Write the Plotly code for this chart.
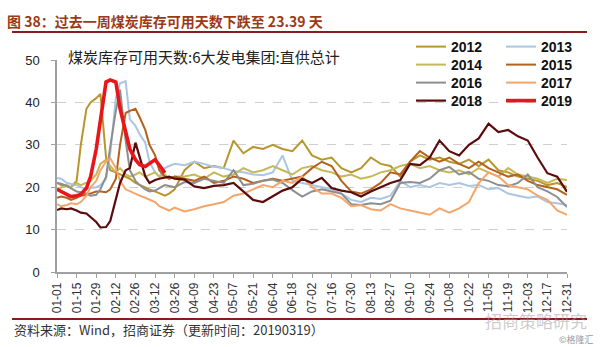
import plotly.graph_objects as go

# ---------------- data (day of year) ----------------
days_early = [0, 3, 7, 10, 14, 17, 21, 24, 28, 31, 35, 38, 42, 45, 49, 52, 56, 59, 63, 66, 70, 73, 77, 80, 84]
days_late = list(range(91, 365, 7))
days = days_early + days_late
days_2019 = days_early[:23]

y2012 = [21.0, 20.5, 20.2, 20.0, 21.5, 30.0, 38.5, 40.0, 41.0, 42.0, 27.0, 24.0, 23.5, 23.0, 22.5, 22.0, 21.0, 20.5, 20.0, 19.5, 19.0, 18.5, 18.0, 18.5, 19.5,
         24.0, 26.0, 24.5, 25.0, 24.5, 31.0, 28.0, 29.5, 29.0, 30.0, 29.0, 28.5, 31.0, 27.5, 26.5, 27.0, 24.5, 23.5, 24.5, 27.0,
         25.5, 25.0, 22.5, 26.0, 27.5, 26.5, 27.0, 26.0, 25.5, 26.5, 25.0, 26.5, 24.0, 23.5, 22.5, 22.0, 21.5, 20.5, 21.0, 20.0]
y2013 = [22.2, 22.0, 21.0, 20.8, 20.5, 20.0, 19.5, 19.8, 20.0, 20.5, 22.0, 28.0, 41.0, 44.5, 45.0, 36.0, 34.5, 32.5, 30.5, 26.0, 23.5, 22.5, 24.5, 25.0, 25.5,
         25.2, 26.0, 25.5, 24.8, 24.5, 23.8, 23.5, 23.0, 22.8, 23.5, 27.5, 21.5, 21.0, 20.5, 20.0, 19.5, 18.5, 17.0, 16.5, 17.5,
         17.2, 18.0, 21.5, 20.0, 20.5, 20.0, 21.0, 20.5, 21.0, 20.3, 20.5, 19.5, 19.8, 18.5, 18.0, 17.5, 17.8, 16.5, 16.2, 15.8]
y2014 = [19.5, 20.0, 20.5, 20.0, 21.0, 20.5, 21.0, 21.5, 23.0, 25.5, 26.5, 25.0, 23.5, 24.5, 23.0, 22.5, 23.0, 23.5, 22.5, 23.0, 23.5, 22.5, 23.0, 22.0, 22.5,
         22.5, 23.0, 22.0, 23.5, 22.5, 23.0, 24.5, 23.5, 24.0, 25.0, 24.0, 23.0, 24.5, 25.0, 24.0, 23.5, 22.5, 23.0, 22.0, 22.5,
         23.5, 24.0, 25.0, 25.5, 24.5, 25.0, 24.0, 23.5, 24.0, 23.0, 24.5, 23.5, 22.5, 24.5, 23.0, 22.5, 22.0, 21.0, 22.0, 21.7]
y2015 = [17.5, 17.8, 17.5, 17.0, 17.5, 18.0, 18.2, 18.5, 19.0, 19.0, 18.8, 19.5, 22.0, 30.0, 37.5, 38.0, 38.5, 36.5, 33.5, 30.0, 27.5, 24.0, 22.5, 22.0, 22.5,
         22.0, 21.5, 22.5, 21.0, 21.5, 22.5, 22.0, 21.0, 21.5, 22.0, 21.5, 22.0, 22.5, 24.5, 26.0, 25.0, 21.5, 19.0, 18.5, 19.5,
         21.0, 23.5, 23.0, 26.0, 28.5, 27.0, 26.0, 27.0, 25.5, 24.5, 26.0, 24.5, 23.5, 22.5, 23.0, 21.5, 20.5, 20.0, 19.5, 18.2]
y2016 = [21.0, 20.8, 20.3, 19.8, 19.0, 18.8, 18.5, 18.0, 18.2, 19.5, 22.5, 29.5, 38.0, 43.0, 31.0, 24.0, 21.5, 20.5, 19.5, 19.0, 19.2, 19.8, 20.5, 20.3, 20.0,
         21.2, 21.0, 22.0, 21.5, 21.0, 24.0, 20.5, 20.8, 21.5, 21.8, 21.0, 19.3, 17.8, 19.0, 19.5, 19.0, 18.5, 16.0, 15.8, 16.2,
         16.0, 16.8, 21.0, 21.2, 21.0, 22.0, 24.0, 24.8, 23.0, 23.6, 22.0, 21.5, 20.5, 20.2, 21.0, 23.0, 20.0, 19.0, 17.7, 15.3]
y2017 = [16.0, 15.5, 15.8, 16.2, 16.0, 16.5, 18.0, 20.0, 21.5, 24.0, 26.0, 26.8, 24.5, 21.5, 19.5, 19.0, 18.5, 18.0, 17.5, 17.0, 16.5, 15.5, 15.0, 14.5, 15.2,
         14.3, 14.8, 15.5, 16.0, 16.5, 18.0, 18.5, 19.5, 20.5, 20.0, 21.5, 21.0, 22.5, 20.0, 18.5, 18.5, 17.5, 15.5, 15.8, 14.8,
         14.5, 16.0, 15.0, 14.5, 14.0, 13.5, 15.0, 14.0, 15.0, 16.5, 21.0, 23.5, 22.5, 20.5, 20.0, 19.5, 18.0, 17.0, 14.5, 13.5]
y2018 = [14.6, 15.0, 14.8, 15.0, 14.5, 14.0, 13.8, 13.0, 11.8, 10.5, 10.6, 12.0, 17.5, 21.0, 24.0, 24.5, 30.5, 27.0, 22.6, 21.0, 21.7, 22.0, 22.2, 22.5, 22.0,
         21.8, 20.2, 19.8, 20.3, 20.5, 21.0, 19.0, 17.0, 16.5, 17.8, 19.2, 20.0, 22.0, 21.0, 22.2, 19.8, 19.2, 18.8, 17.8, 19.0,
         20.0, 21.0, 21.7, 25.5, 25.2, 27.0, 31.0, 28.5, 27.5, 30.0, 31.5, 35.0, 33.0, 33.5, 32.0, 31.0, 27.0, 23.3, 22.5, 18.9]
y2019 = [19.5, 19.0, 18.2, 17.8, 18.0, 18.3, 19.8, 22.5, 29.0, 36.0, 44.8, 45.3, 44.8, 38.5, 33.0, 29.0, 26.5, 25.3, 24.9, 25.5, 26.5, 25.2, 23.39]

years = ["2012", "2013", "2014", "2015", "2016", "2017", "2018", "2019"]
tick_labels = ["01-01", "01-15", "01-29", "02-12", "02-26", "03-12", "03-26", "04-09", "04-23",
               "05-07", "05-21", "06-04", "06-18", "07-02", "07-16", "07-30", "08-13", "08-27",
               "09-10", "09-24", "10-08", "10-22", "11-05", "11-19", "12-03", "12-17", "12-31"]
y_ticks = [0, 10, 20, 30, 40, 50]

# ---------------- styles ----------------
colors = {"2012": "#B8962C", "2013": "#AAC6E4", "2014": "#C6B858", "2015": "#B4611E",
          "2016": "#8E8E8E", "2017": "#F4A56A", "2018": "#5C0B0B", "2019": "#E8161B"}
widths = {"2012": 2, "2013": 2, "2014": 2, "2015": 2, "2016": 2, "2017": 2, "2018": 2.2, "2019": 3.6}
values = {"2012": y2012, "2013": y2013, "2014": y2014, "2015": y2015,
          "2016": y2016, "2017": y2017, "2018": y2018, "2019": y2019}

W, H = 600, 347
ML, MR, MT, MB = 57, 33, 60, 75
PW, PH = W - ML - MR, H - MT - MB


def px(xp):
    return (xp - ML) / PW


def py(yp):
    return (H - MB - yp) / PH


# legend grid: 2 columns x 4 rows (pixel positions of the reference legend)
legend_cols = [411, 501]
legend_rows = [47, 65, 83, 101]

fig = go.Figure()
legend_layout = {}
legend_font = dict(family="Liberation Sans, Arial", size=14, color="#111111", weight="bold")
for i, yr in enumerate(years):
    xs = days_2019 if yr == "2019" else days
    key = "legend" if i == 0 else f"legend{i + 1}"
    fig.add_trace(go.Scatter(
        x=xs, y=values[yr], mode="lines", name=yr, showlegend=True,
        line=dict(color=colors[yr], width=widths[yr]),
        legend=key, hoverinfo="skip"))
    legend_layout[key] = dict(x=px(legend_cols[i % 2]), y=py(legend_rows[i // 2]),
                              xanchor="left", yanchor="middle", bgcolor="rgba(255,255,255,0)",
                              font=legend_font, itemwidth=30, tracegroupgap=0)

tick_step = 364 / (len(tick_labels) - 1)
fig.update_xaxes(
    range=[0, 364], tickvals=[i * tick_step for i in range(len(tick_labels))], ticktext=tick_labels,
    tickangle=-90, showline=True, linecolor="#A0A0A0", linewidth=1.5,
    ticks="outside", ticklen=4, tickcolor="#A0A0A0", showgrid=False, zeroline=False,
    tickfont=dict(family="Liberation Sans, Arial", size=12, color="#333333"))
fig.update_yaxes(
    range=[0, 50], tickvals=y_ticks, showline=True, linecolor="#A0A0A0", linewidth=1.5,
    ticks="outside", ticklen=4, tickcolor="#A0A0A0", ticklabelstandoff=9,
    showgrid=True, gridcolor="#CFCFCF", griddash="dash", gridwidth=1, zeroline=False,
    tickfont=dict(family="Liberation Sans, Arial", size=13, color="#222222"))

fig.update_layout(
    width=W, height=H, autosize=False, showlegend=True,
    margin=dict(l=ML, r=MR, t=MT, b=MB, pad=0),
    paper_bgcolor="white", plot_bgcolor="white",
    **legend_layout,
)

# title, rules and source note
fig.add_annotation(text="图 38：过去一周煤炭库存可用天数下跌至 23.39 天", xref="paper", yref="paper",
                   x=px(5), y=py(21), xanchor="left", yanchor="middle", showarrow=False,
                   font=dict(family="Noto Sans CJK SC", size=14, color="#9B3A14", weight="bold"))
fig.add_annotation(text="煤炭库存可用天数:6大发电集团:直供总计", xref="paper", yref="paper",
                   x=px(66), y=py(56), xanchor="left", yanchor="middle", showarrow=False,
                   font=dict(family="Noto Sans CJK SC", size=15, color="#222222"))
fig.add_annotation(text="资料来源：Wind，招商证券（更新时间：20190319）", xref="paper", yref="paper",
                   x=px(12), y=py(329), xanchor="left", yanchor="middle", showarrow=False,
                   font=dict(family="Noto Sans CJK SC", size=13, color="#333333"))
fig.add_annotation(text="招商策略研究", xref="paper", yref="paper",
                   x=px(536), y=py(320), xanchor="center", yanchor="middle", showarrow=False,
                   font=dict(family="Noto Sans CJK SC", size=17, color="rgba(160,160,160,0.55)"))
fig.add_annotation(text="©格隆汇", xref="paper", yref="paper",
                   x=px(596), y=py(339), xanchor="right", yanchor="middle", showarrow=False,
                   font=dict(family="Noto Sans CJK SC", size=9, color="#9A9A9A"))
for yline in (32, 319):
    fig.add_shape(type="line", xref="paper", yref="paper", x0=px(12), x1=px(587),
                  y0=py(yline), y1=py(yline), line=dict(color="#8B1A1A", width=2))

fig.write_html("out.html")
